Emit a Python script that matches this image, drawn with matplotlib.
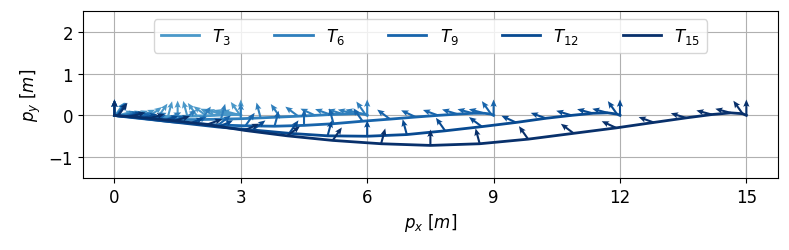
import numpy as np
import matplotlib.pyplot as plt

# node positions of each rod (x, y in m)
x_T3 = [0, 0.02, 0.07, 0.16, 0.29, 0.44, 0.62, 0.82, 1.04, 1.27, 1.5,
        1.73, 1.96, 2.18, 2.38, 2.56, 2.71, 2.84, 2.93, 2.98, 3]
y_T3 = [0, 0, -0.005, -0.01, -0.015, -0.02, -0.025, -0.03, -0.03, -0.03, -0.025,
        -0.02, -0.015, -0.01, 0, 0.01, 0.015, 0.02, 0.02, 0.01, 0]

x_T6 = [0, 0.04, 0.15, 0.33, 0.57, 0.88, 1.24, 1.64, 2.07, 2.53, 3,
        3.47, 3.93, 4.36, 4.76, 5.12, 5.43, 5.67, 5.85, 5.96, 6]
y_T6 = [0, -0.005, -0.015, -0.03, -0.05, -0.07, -0.09, -0.1, -0.1, -0.09, -0.08,
        -0.06, -0.04, -0.02, 0.0, 0.02, 0.03, 0.04, 0.04, 0.02, 0]

x_T9 = [0, 0.06, 0.22, 0.49, 0.86, 1.32, 1.85, 2.46, 3.11, 3.80, 4.5,
        5.2, 5.89, 6.54, 7.15, 7.68, 8.14, 8.51, 8.78, 8.94, 9]
y_T9 = [0, -0.01, -0.03, -0.06, -0.1, -0.15, -0.19, -0.23, -0.25, -0.26, -0.24,
        -0.2, -0.14, -0.09, -0.04, 0.0, 0.03, 0.05, 0.05, 0.03, 0]

x_T12 = [0, 0.07, 0.29, 0.65, 1.15, 1.76, 2.47, 3.28, 4.15, 5.06, 6.0,
         6.94, 7.85, 8.72, 9.53, 10.24, 10.85, 11.35, 11.71, 11.93, 12]
y_T12 = [0, -0.01, -0.03, -0.07, -0.13, -0.2, -0.28, -0.35, -0.43, -0.49, -0.5,
         -0.46, -0.37, -0.27, -0.17, -0.07, 0.0, 0.05, 0.06, 0.03, 0]

x_T15 = [0, 0.09, 0.37, 0.82, 1.43, 2.20, 3.09, 4.10, 5.18, 6.33, 7.5,
         8.67, 9.82, 10.90, 11.91, 12.80, 13.57, 14.18, 14.63, 14.91, 15]
y_T15 = [0, -0.01, -0.03, -0.07, -0.13, -0.22, -0.36, -0.49, -0.6, -0.68, -0.72,
         -0.68, -0.57, -0.43, -0.3, -0.17, -0.06, 0.02, 0.06, 0.04, 0]

# orientation of the frame arrow at each node (deg)
ang = [90, 55, 15, 15, 17, 20, 25, 37, 55, 75, 90,
       105, 125, 143, 155, 160, 163, 165, 165, 125, 90]

labels = ['$T_{3}$', '$T_{6}$', '$T_{9}$', '$T_{12}$', '$T_{15}$']
xs = [x_T3, x_T6, x_T9, x_T12, x_T15]
ys = [y_T3, y_T6, y_T9, y_T12, y_T15]

plt.rcParams['font.size'] = 12
colors = plt.cm.Blues(np.linspace(0.6, 1.0, 5))

fig = plt.figure(figsize=(7.89, 2.51), dpi=100)
ax = fig.add_axes([0.105, 0.287, 0.881, 0.665])

arr_len = 0.38
th = np.deg2rad(ang)
for x, y, c, lab in zip(xs, ys, colors, labels):
    ax.plot(x, y, color=c, lw=2, label=lab, zorder=3)
    ax.quiver(x, y, arr_len * np.cos(th), arr_len * np.sin(th), color=c,
              angles='xy', scale_units='xy', scale=1, width=0.003,
              headwidth=3, headlength=3.5, headaxislength=3, zorder=3)

ax.set_xlim(-0.75, 15.75)
ax.set_ylim(-1.5, 2.5)
ax.set_xticks([0, 3, 6, 9, 12, 15])
ax.set_yticks([-1, 0, 1, 2])
ax.set_xlabel(r'$p_x\ [m]$')
ax.set_ylabel(r'$p_y\ [m]$')
ax.grid(True)
ax.set_axisbelow(True)
ax.legend(loc='upper center', ncol=5, handlelength=2.3, columnspacing=2.6)

fig.savefig('out.png', dpi=100)
